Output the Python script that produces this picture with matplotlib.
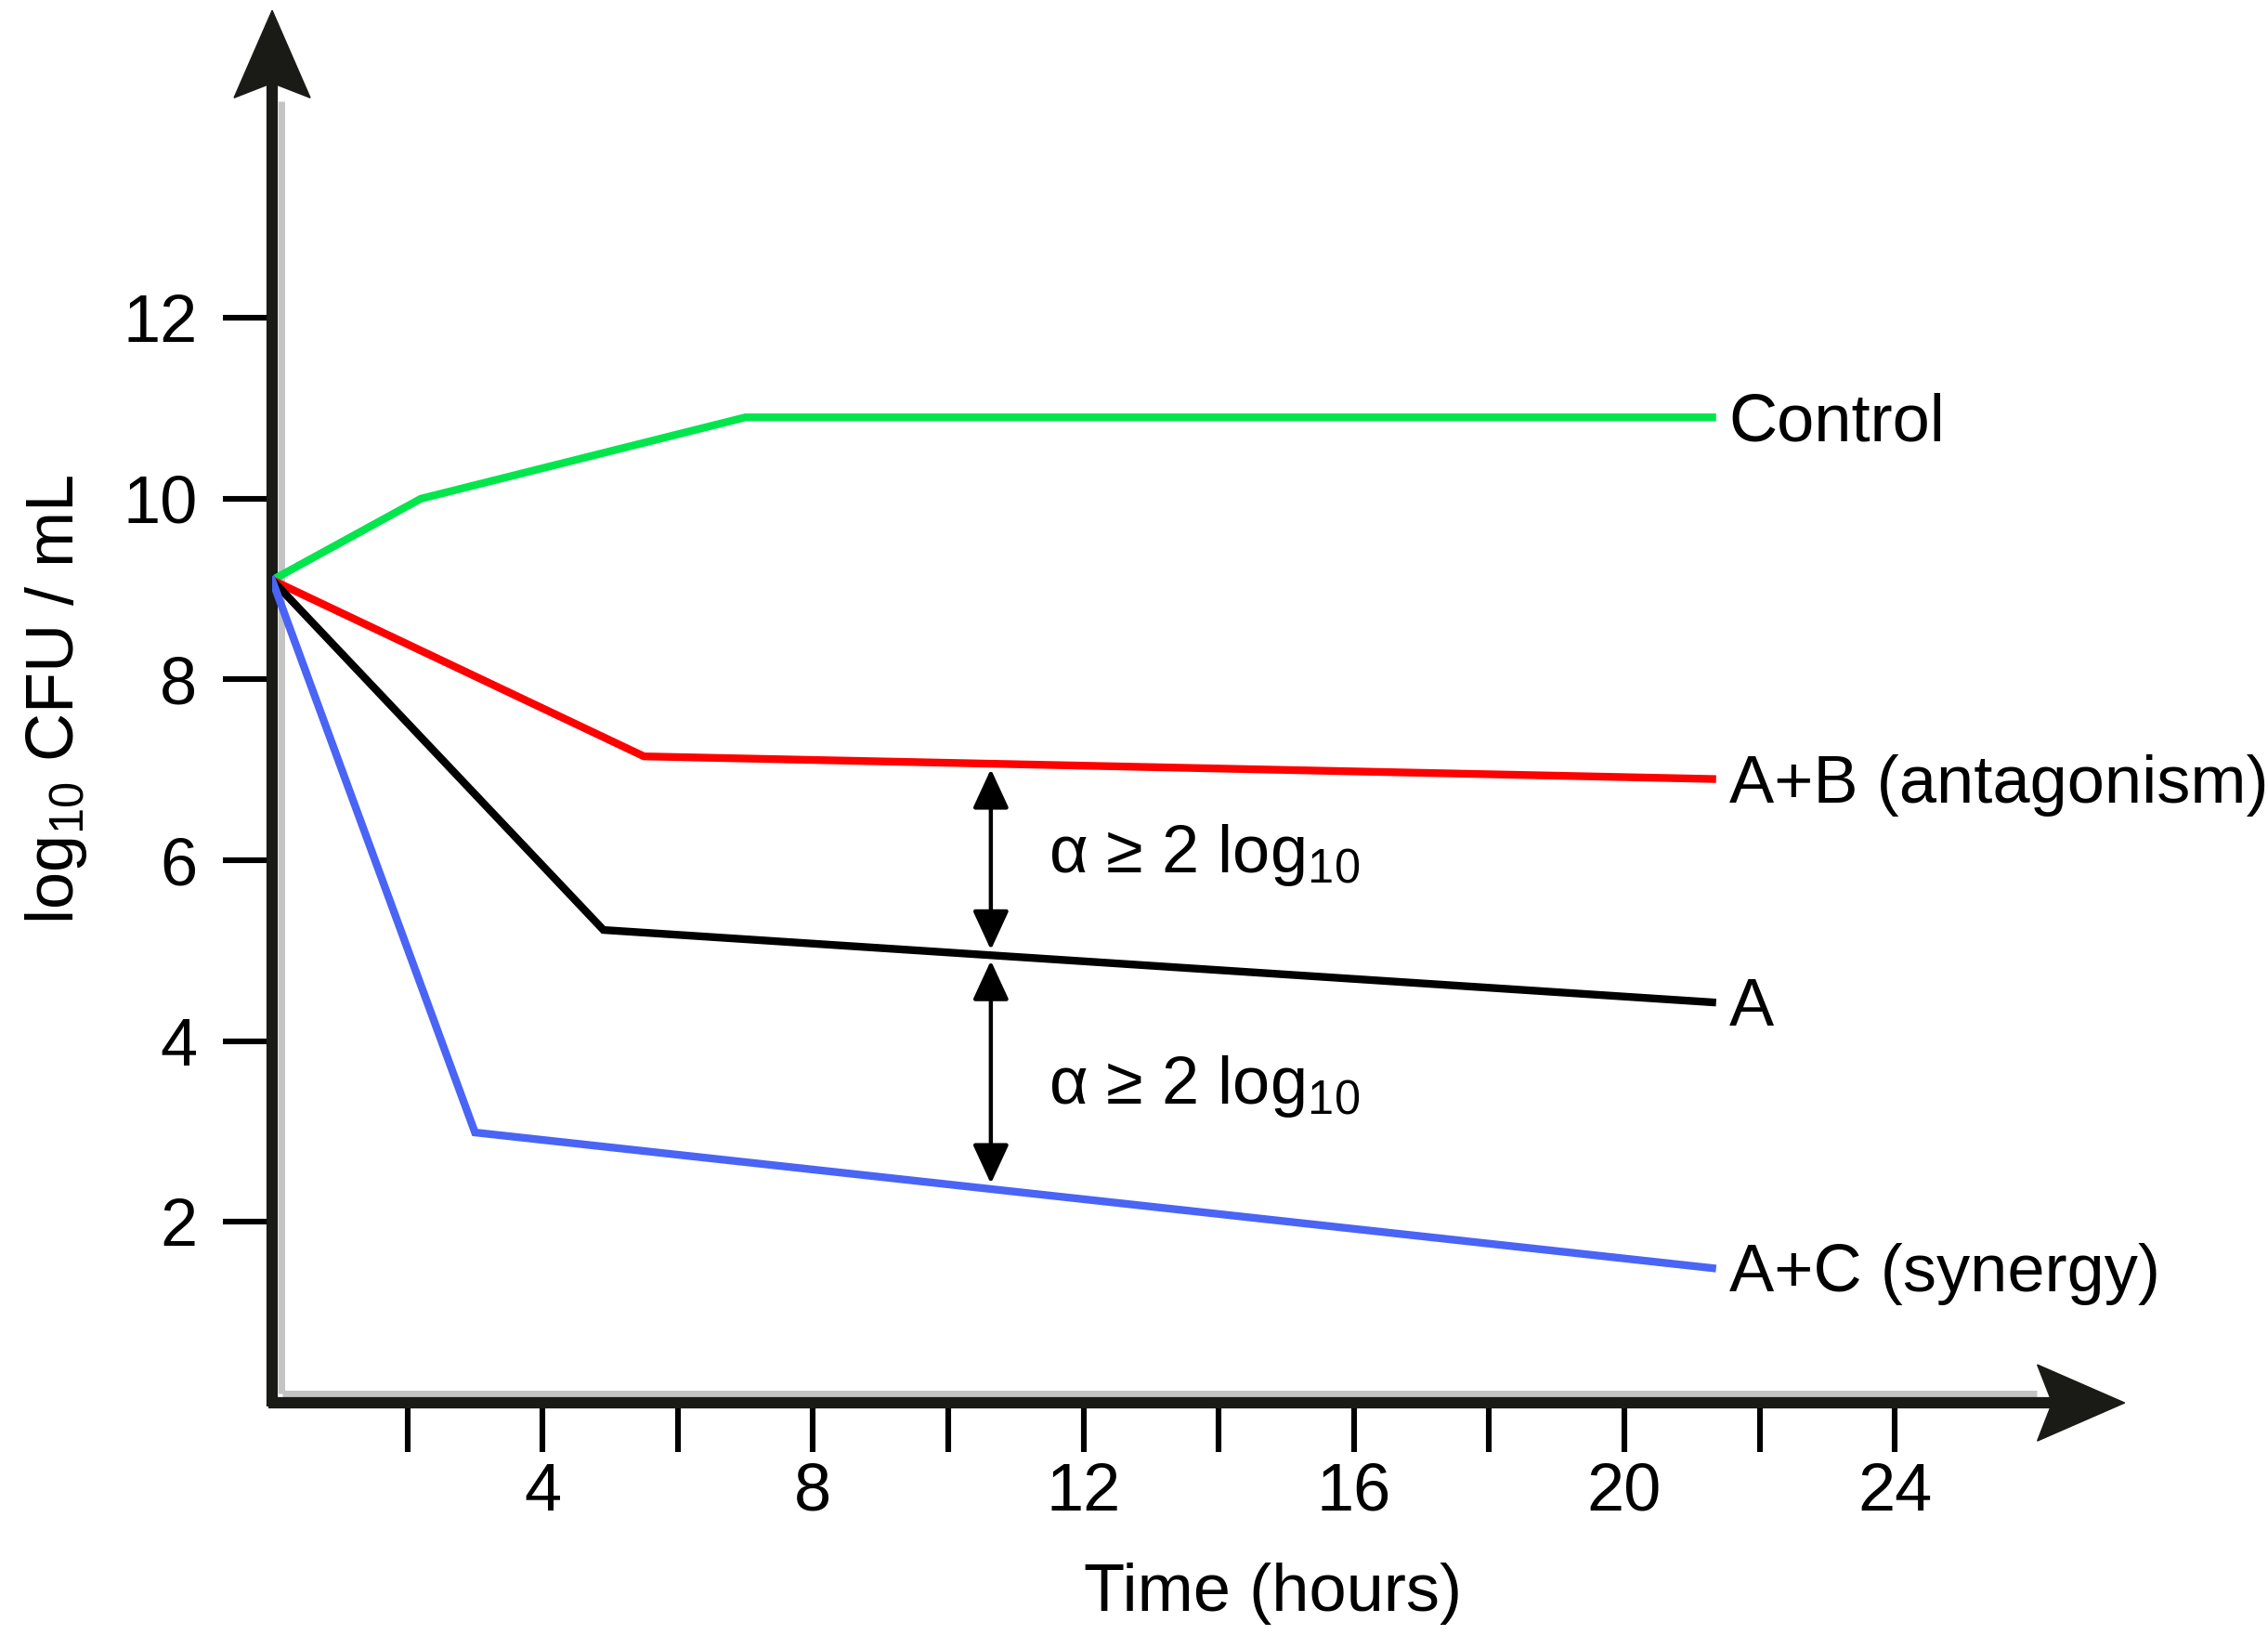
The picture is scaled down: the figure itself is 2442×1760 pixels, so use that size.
import numpy as np
import matplotlib
matplotlib.use("Agg")
import matplotlib.pyplot as plt
from matplotlib.patches import Polygon
from matplotlib.transforms import ScaledTranslation, Affine2D

plt.rcParams['font.family'] = ['Liberation Sans', 'DejaVu Sans']
plt.rcParams['mathtext.fontset'] = 'custom'
plt.rcParams['mathtext.rm'] = 'Liberation Sans'
plt.rcParams['mathtext.it'] = 'Liberation Sans'
plt.rcParams['mathtext.default'] = 'regular'

# series: (hours, log10 CFU/mL)
control_t = [0, 2.2, 7.0, 21.3]
control_y = [9.1, 10.0, 10.9, 10.9]
ab_t = [0, 5.5, 21.3]
ab_y = [9.1, 7.15, 6.9]
a_t = [0, 4.9, 21.3]
a_y = [9.1, 5.23, 4.43]
ac_t = [0, 3.0, 21.3]
ac_y = [9.1, 2.99, 1.49]

labels = ["Control", "A+B (antagonism)", "A", "A+C (synergy)"]
colors = ["#00e64c", "#ff0000", "#000000", "#4a64f5"]

x_ticks = np.arange(2, 26, 2)
x_labels = ["" if t % 4 else str(t) for t in x_ticks]
y_ticks = np.arange(2, 14, 2)

arrow_t = 10.63
alpha_label_y = [6.06, 3.5]
x_max, y_max = 27.4, 15.4

fig = plt.figure(figsize=(12.21, 8.8), dpi=200)
ax = fig.add_axes([0.120, 0.142, 0.8168, 0.8516])
ax.set_xlim(0, x_max)
ax.set_ylim(0, y_max)
for s in ax.spines.values():
    s.set_visible(False)

series = [(control_t, control_y), (ab_t, ab_y), (a_t, a_y), (ac_t, ac_y)]
for (t, y), lab, c in zip(series, labels, colors):
    ax.plot(t, y, color=c, lw=3.0, solid_joinstyle='miter', zorder=3)
    ax.text(t[-1] + 0.25, y[-1] - 0.07, lab, fontsize=26, va='center', ha='left')

# axes drawn by hand: thick line, light shadow, stealth arrowhead
axis_col = '#1a1a17'
ax.plot([0.14, 0.14], [0.1, y_max - 1.0], color='#c4c4c4', lw=2.5,
        solid_capstyle='butt', clip_on=False, zorder=1)
ax.plot([0.15, x_max - 1.3], [0.105, 0.105], color='#c4c4c4', lw=2.5,
        solid_capstyle='butt', clip_on=False, zorder=1)
ax.plot([0, 0], [-0.04, y_max - 0.5], color=axis_col, lw=4.4,
        solid_capstyle='butt', clip_on=False, zorder=2)
ax.plot([-0.05, x_max - 0.6], [0, 0], color=axis_col, lw=4.4,
        solid_capstyle='butt', clip_on=False, zorder=2)

head = np.array([[0, 0], [-0.205, -0.47], [0, -0.39], [0.205, -0.47]])
for tip, ang in [((0, y_max), 0), ((x_max, 0), -90)]:
    tr = (Affine2D().rotate_deg(ang) + fig.dpi_scale_trans
          + ScaledTranslation(tip[0], tip[1], ax.transData))
    ax.add_patch(Polygon(head, closed=True, transform=tr, facecolor=axis_col,
                         edgecolor=axis_col, lw=0.5, clip_on=False, zorder=2))

ax.set_xticks(x_ticks)
ax.set_xticklabels(x_labels)
ax.set_yticks(y_ticks)
ax.tick_params(axis='both', direction='out', length=19, width=2.2, labelsize=26,
               color='black')
ax.tick_params(axis='x', pad=4)
ax.tick_params(axis='y', pad=10)

ax.set_xlabel('Time (hours)', fontsize=26)
ax.xaxis.set_label_coords(0.54, -0.115)
ax.set_ylabel('log$_{10}$ CFU / mL', fontsize=26)
ax.yaxis.set_label_coords(-0.099, 0.505)

# difference arrows
ab_at = np.interp(arrow_t, ab_t, ab_y)
a_at = np.interp(arrow_t, a_t, a_y)
ac_at = np.interp(arrow_t, ac_t, ac_y)
for (top, bot), ty in zip([(ab_at - 0.06, a_at + 0.06), (a_at - 0.06, ac_at + 0.06)],
                          alpha_label_y):
    ax.annotate('', xy=(arrow_t, bot), xytext=(arrow_t, top),
                arrowprops=dict(arrowstyle='<|-|>,head_length=0.65,head_width=0.3',
                                mutation_scale=20, lw=1.6, color='black',
                                shrinkA=0, shrinkB=0))
    ax.text(arrow_t + 0.85, ty, r'α ≥ 2 log$_{10}$',
            fontsize=26, va='center', ha='left')

fig.savefig('out.png', dpi=200)
